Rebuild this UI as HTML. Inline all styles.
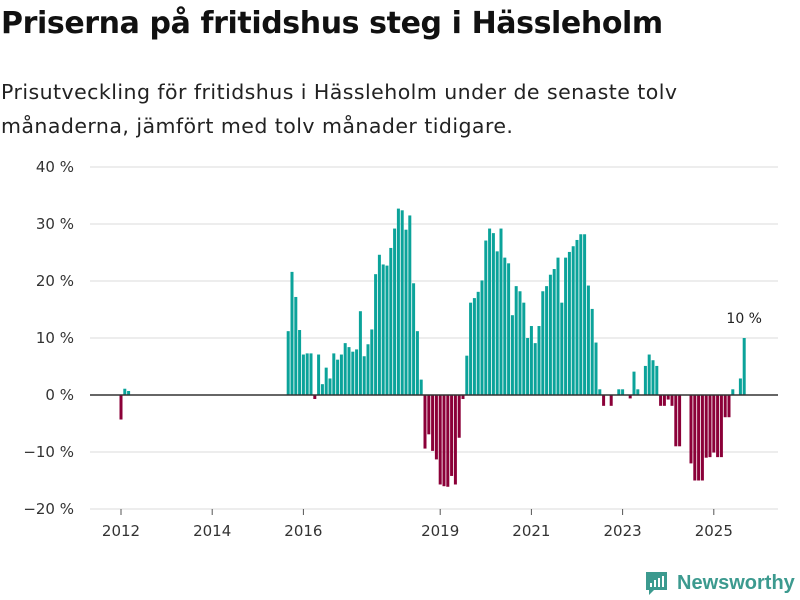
<!DOCTYPE html>
<html><head><meta charset="utf-8"><style>
body{margin:0;width:800px;height:600px;background:#fff;font-family:"DejaVu Sans","Liberation Sans",sans-serif;overflow:hidden;position:relative}
h1{position:absolute;left:1px;top:6px;margin:0;font-size:30px;font-weight:bold;color:#111;letter-spacing:-0.4px}
.sub{position:absolute;left:1px;top:75px;margin:0;font-size:20.5px;line-height:34px;color:#222;letter-spacing:0.45px}
svg{position:absolute;left:0;top:0}
</style></head><body>
<h1>Priserna på fritidshus steg i Hässleholm</h1>
<p class="sub">Prisutveckling för fritidshus i Hässleholm under de senaste tolv<br>månaderna, jämfört med tolv månader tidigare.</p>
<svg id="chart" width="800" height="600"></svg>
<script>
const values = [-4.3,1.1,0.7,null,null,null,null,null,null,null,null,null,null,null,null,null,null,null,null,null,null,null,null,null,null,null,null,null,null,null,null,null,null,null,null,null,null,null,null,null,null,null,null,null,
11.2,21.6,17.2,11.4,7.1,7.3,7.3,-0.7,7.1,1.9,4.8,2.9,7.3,6.2,7.1,9.1,8.4,7.6,8,14.7,6.8,8.9,11.5,21.2,24.6,22.9,22.7,25.8,29.2,32.7,32.4,29,31.5,19.6,11.2,2.7,-9.4,-6.9,-9.8,-11.3,-15.7,-16,-16.1,-14.2,-15.7,-7.5,-0.7,
6.9,16.2,17,18.1,20.1,27.1,29.2,28.4,25.2,29.2,24.1,23.1,14,19.1,18.2,16.2,10,12.1,9.1,12.1,18.2,19.1,21.1,22.1,24.1,16.2,24.1,25.1,26.1,27.2,28.2,28.2,19.2,15.1,
9.2,1.0,-1.9,null,-1.9,null,1.0,1.0,null,-0.6,4.1,1.0,null,5.1,7.1,6.1,5.1,-1.9,-1.9,-0.8,-1.9,-9,-9,null,null,-12,-15,-15,-15,-11,-10.9,-10.1,-10.9,-10.9,-3.9,-3.9,1.0,null,2.9,10];
const yTicks = [40,30,20,10,0,-10,-20];
const yLabels = ["40 %","30 %","20 %","10 %","0 %","−10 %","−20 %"];
const xTickYears = [2012,2014,2016,2019,2021,2023,2025];
const lastLabel = "10 %";

const svg = document.getElementById('chart');
const NS = 'http://www.w3.org/2000/svg';
const y = v => 395 - v * 5.7;
const x = i => 121 + i * 3.8;
const xYear = yr => x((yr - 2012) * 12);
function mk(tag, attrs){const e=document.createElementNS(NS,tag);for(const k in attrs)e.setAttribute(k,attrs[k]);svg.appendChild(e);return e;}

yTicks.forEach((t,k)=>{
  if(t!==0){const g=mk('line',{x1:90,x2:778,y1:y(t),y2:y(t),stroke:'#e2e2e2','stroke-width':1.2});
  
  }
  const l=mk('text',{x:74,y:y(t)+5,'text-anchor':'end','font-size':15,fill:'#333'});
  l.textContent=yLabels[k];
  
  
});
values.forEach((v,i)=>{
  if(v===null||v===0)return;
  const top=Math.min(y(v),y(0)), h=Math.abs(y(v)-y(0));
  const b=mk('rect',{x:x(i)-1.5,y:top,width:3,height:h,fill:v>0?'#0ba39a':'#8b0038'});
  
  
});
const z=mk('line',{x1:90,x2:778,y1:y(0),y2:y(0),stroke:'#333','stroke-width':1.5});


xTickYears.forEach(yr=>{
  const t=mk('line',{x1:xYear(yr),x2:xYear(yr),y1:509,y2:515,stroke:'#555'});
  
  
  const l=mk('text',{x:xYear(yr),y:536,'text-anchor':'middle','font-size':15,fill:'#333'});
  l.textContent=yr;
  
  
});
const li=values.length-1;
const vl=mk('text',{x:x(li),y:y(values[li])-15,'text-anchor':'middle','font-size':14,fill:'#222'});
vl.textContent=lastLabel;



const logo=mk('g',{});


const ic=document.createElementNS(NS,'path');
ic.setAttribute('d','M646 572h21v18h-13l-5 5v-5h-3z');
ic.setAttribute('fill','#3c9a8f');
logo.appendChild(ic);
[[650,583,2,4],[654,580,2,7],[658,578,2,9],[662,576,2,11]].forEach(r=>{const e=document.createElementNS(NS,'rect');e.setAttribute('x',r[0]);e.setAttribute('y',r[1]);e.setAttribute('width',r[2]);e.setAttribute('height',r[3]);e.setAttribute('fill','#fff');logo.appendChild(e);});
const lt=document.createElementNS(NS,'text');
lt.setAttribute('x',677);lt.setAttribute('y',589);lt.setAttribute('font-size',20);lt.setAttribute('font-weight','bold');lt.setAttribute('fill','#3c9a8f');
lt.setAttribute('font-family','Liberation Sans, sans-serif');
lt.textContent='Newsworthy';
logo.appendChild(lt);
</script>
</body></html>
